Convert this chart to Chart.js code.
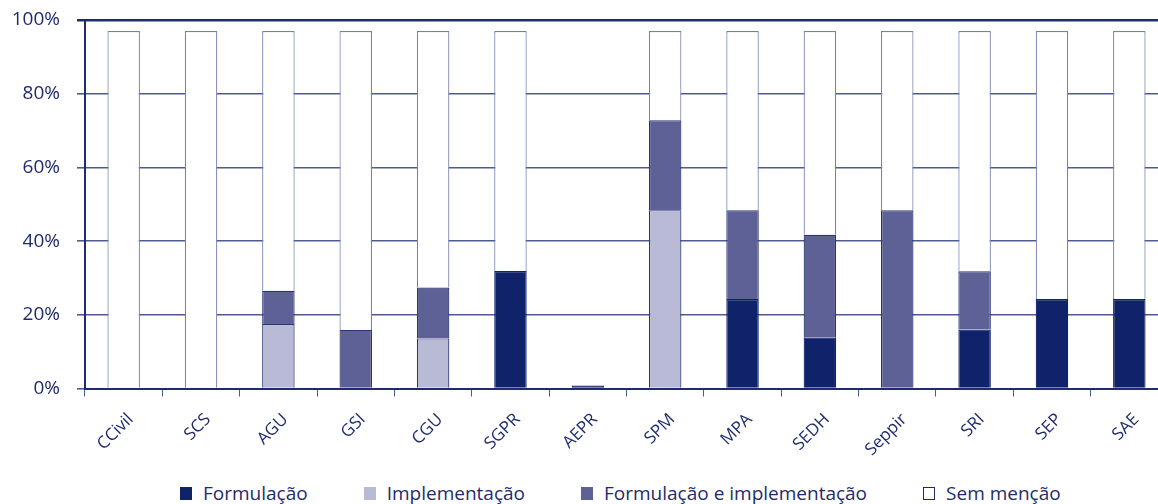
<!DOCTYPE html>
<html>
<head>
<meta charset="utf-8">
<script src="https://cdn.jsdelivr.net/npm/chart.js@4/dist/chart.umd.min.js"></script>
<style>
  html, body { margin: 0; padding: 0; background: #fff; overflow: hidden; }
  #wrap { position: relative; width: 1158px; height: 504px; overflow: hidden; }
  #chart { position: absolute; left: 0; top: 0; }
  #legend {
    position: absolute; left: 180px; top: 480px; height: 26px;
    display: flex; gap: 56px; align-items: center;
    font-family: 'Open Sans', sans-serif; font-size: 19px; color: #1f2b6c;
    white-space: nowrap;
  }
  #legend .item { display: flex; align-items: center; }
  #legend .box { width: 12px; height: 13px; margin-right: 11px; box-sizing: border-box; border: 1px solid #1f2b6c; }
</style>
</head>
<body>
<div id="wrap">
  <canvas id="chart" width="1180" height="462"></canvas>
  <div id="legend"></div>
</div>
<script>
  var CATEGORIES = ['CCivil', 'SCS', 'AGU', 'GSI', 'CGU', 'SGPR', 'AEPR', 'SPM', 'MPA', 'SEDH', 'Seppir', 'SRI', 'SEP', 'SAE'];

  var FORMULACAO   = [0, 0, 0, 0, 0, 31.9, 0.8, 0, 24.3, 13.8, 0, 16.0, 24.3, 24.3];
  var IMPLEMENTACAO = [0, 0, 17.5, 0, 13.6, 0, 0, 48.4, 0, 0, 0, 0, 0, 0];
  var FORM_E_IMPL  = [0, 0, 9.0, 15.9, 13.8, 0, 0, 24.4, 24.1, 27.9, 48.4, 15.8, 0, 0];
  var SEM_MENCAO   = [97, 97, 70.5, 81.1, 69.6, 65.1, 0, 24.2, 48.6, 55.3, 48.6, 65.2, 72.7, 72.7];

  var Y_TICKS = [0, 20, 40, 60, 80, 100];

  var NAVY = '#1f2b6c';
  var GRID = '#4e5a96';

  function clean(arr) {
    return arr.map(function (v) { return v === 0 ? null : v; });
  }

  function ds(label, data, fill, border) {
    return {
      label: label,
      data: clean(data),
      backgroundColor: fill,
      borderColor: border,
      borderWidth: 1.2,
      borderSkipped: 'bottom',
      categoryPercentage: 1,
      barPercentage: 0.42
    };
  }

  var chart = new Chart(document.getElementById('chart'), {
    type: 'bar',
    data: {
      labels: CATEGORIES,
      datasets: [
        ds('Formulação', FORMULACAO, '#10226a', '#10226a'),
        ds('Implementação', IMPLEMENTACAO, '#b8bad6', '#2b3674'),
        ds('Formulação e implementação', FORM_E_IMPL, '#5e6196', '#2b3674'),
        ds('Sem menção', SEM_MENCAO, '#ffffff', '#7680b0')
      ]
    },
    options: {
      responsive: false,
      animation: false,
      layout: { padding: { top: 20, right: 12, left: 0, bottom: 0 } },
      plugins: {
        tooltip: { enabled: false },
        legend: { display: false }
      },
      scales: {
        x: {
          stacked: true,
          grid: { drawOnChartArea: false, drawTicks: true, tickLength: 8, color: GRID, offset: true },
          border: { display: true, color: NAVY, width: 2 },
          ticks: {
            color: NAVY,
            font: { family: 'Open Sans', size: 17 },
            maxRotation: 45,
            minRotation: 45,
            padding: 13,
            labelOffset: 7
          },
          afterFit: function (scale) { scale.height = 73.5; }
        },
        y: {
          stacked: true,
          min: 0,
          max: 100,
          afterBuildTicks: function (scale) {
            scale.ticks = Y_TICKS.map(function (v) { return { value: v }; });
          },
          grid: {
            color: function (ctx) { return ctx.tick && ctx.tick.value === 100 ? NAVY : GRID; },
            tickLength: 8,
            lineWidth: function (ctx) { return ctx.tick && ctx.tick.value === 100 ? 2.5 : 1.6; }
          },
          border: { display: true, color: NAVY, width: 2 },
          ticks: {
            color: NAVY,
            font: { family: 'Open Sans', size: 19 },
            padding: 17,
            callback: function (v) { return v + '%'; }
          },
          afterFit: function (scale) {
            scale.width = 85;
            scale.paddingTop = 0;
            scale.paddingBottom = 0;
          }
        }
      }
    }
  });

  // legend built from the chart's own datasets
  var legendHtml = '';
  chart.data.datasets.forEach(function (d) {
    var edge = d.backgroundColor === '#ffffff' ? NAVY : d.backgroundColor;
    legendHtml += '<span class="item"><span class="box" style="background:' + d.backgroundColor +
      ';border-color:' + edge + '"></span>' + d.label + '</span>';
  });
  document.getElementById('legend').innerHTML = legendHtml;
</script>
</body>
</html>
